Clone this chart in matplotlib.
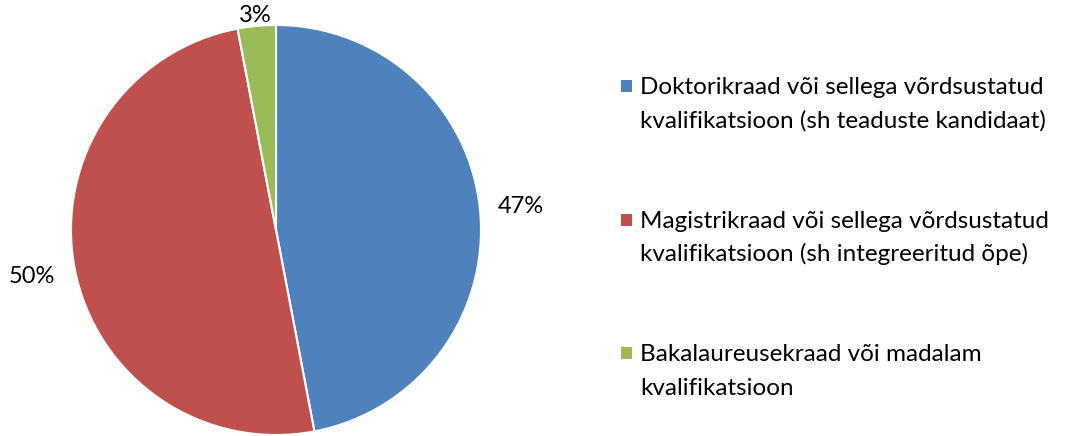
import numpy as np
import matplotlib.pyplot as plt
from matplotlib.patches import Rectangle

plt.rcParams['font.family'] = ['Lato', 'DejaVu Sans']

labels = [
    "Doktorikraad või sellega võrdsustatud\nkvalifikatsioon (sh teaduste kandidaat)",
    "Magistrikraad või sellega võrdsustatud\nkvalifikatsioon (sh integreeritud õpe)",
    "Bakalaureusekraad või madalam\nkvalifikatsioon",
]
values = [47, 50, 3]
colors = ['#4F81BD', '#C0504D', '#9BBB59']
label_dist = [1.2, 1.21, 1.05]

W, H = 1065, 436
fig = plt.figure(figsize=(W / 100, H / 100), dpi=100)
ax = fig.add_axes([71 / W, 1 / H, 410 / W, 410 / H])

wedges, _ = ax.pie(values, colors=colors, startangle=90, counterclock=False,
                   wedgeprops=dict(edgecolor='white', linewidth=1.5))
ax.set_xlim(-1, 1)
ax.set_ylim(-1, 1)
ax.set_aspect('equal')
ax.axis('off')

total = sum(values)
for w, v, d in zip(wedges, values, label_dist):
    ang = np.deg2rad((w.theta1 + w.theta2) / 2)
    ax.text(d * np.cos(ang), d * np.sin(ang), f"{round(v / total * 100)}%",
            ha='center', va='center', fontsize=17, clip_on=False)

# legend drawn by hand: square marker next to the first line of each entry
for i, (lab, c) in enumerate(zip(labels, colors)):
    base = 94 + 133.5 * i
    for j, line in enumerate(lab.split("\n")):
        fig.text(640 / W, 1 - (base + 33.5 * j) / H, line, fontsize=17.5,
                 ha='left', va='baseline')
    fig.patches.append(Rectangle((621 / W, 1 - (base - 2) / H), 11 / W, 12 / H,
                                 transform=fig.transFigure, facecolor=c,
                                 edgecolor='none'))

fig.savefig('out.png', dpi=100)
